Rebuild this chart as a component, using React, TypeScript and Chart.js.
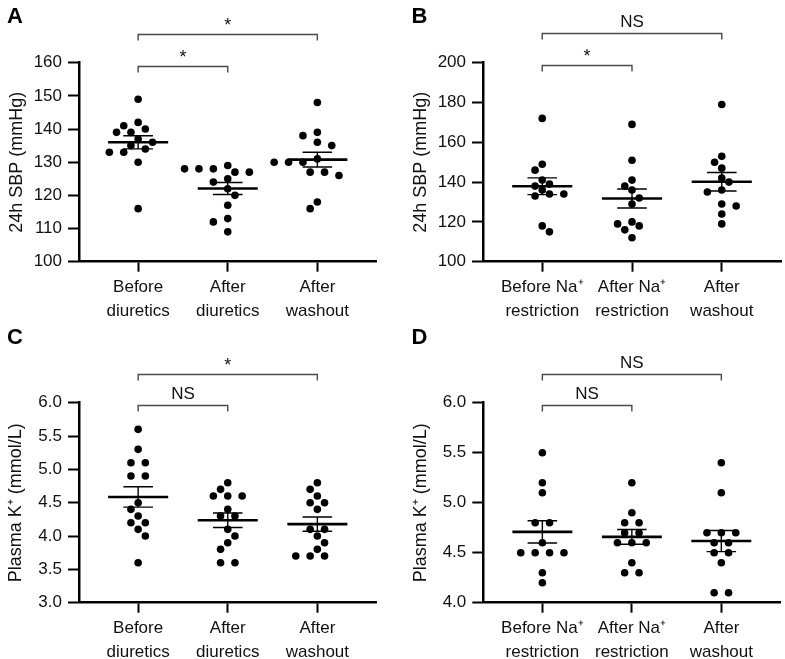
import React, { useEffect, useRef } from 'react';
import { Chart, registerables } from 'chart.js';

Chart.register(...registerables);

const FONT = '"Liberation Sans", Arial, Helvetica, sans-serif';

// ---- categories ----
const diureticCategories = [['Before', 'diuretics'], ['After', 'diuretics'], ['After', 'washout']];
const sodiumCategories = [['Before Na⁺', 'restriction'], ['After Na⁺', 'restriction'], ['After', 'washout']];

// ---- Panel A: 24h SBP, diuretics ----
const sbpBeforeDiuretics = [149, 142, 141, 140, 139, 139, 137, 136, 135, 134, 133, 133, 130, 116];
const sbpAfterDiuretics = [129, 128, 128, 128, 127, 127, 125, 124, 122, 120, 117, 113, 112, 109];
const sbpAfterWashoutA = [148, 139, 138, 136, 135, 131, 130, 130, 130, 127, 127, 126, 118, 116];

// ---- Panel B: 24h SBP, Na+ restriction ----
const sbpBeforeNa = [172, 149, 146, 141, 139, 138, 136, 134, 134, 133, 118, 115];
const sbpAfterNa = [169, 151, 141, 138, 136, 132, 129, 120, 119, 118, 116, 112];
const sbpAfterWashoutB = [179, 153, 150, 147, 142, 140, 136, 135, 129, 128, 124, 119];

// ---- Panel C: plasma K+, diuretics ----
const kBeforeDiuretics = [5.6, 5.3, 5.1, 5.1, 4.9, 4.9, 4.5, 4.4, 4.3, 4.2, 4.2, 4.1, 4.0, 3.6];
const kAfterDiuretics = [4.8, 4.7, 4.6, 4.6, 4.6, 4.4, 4.3, 4.3, 4.1, 4.0, 3.9, 3.8, 3.6, 3.6];
const kAfterWashoutC = [4.8, 4.7, 4.6, 4.5, 4.5, 4.4, 4.1, 4.1, 4.0, 3.9, 3.8, 3.7, 3.7, 3.7];

// ---- Panel D: plasma K+, Na+ restriction ----
const kBeforeNa = [5.5, 5.2, 5.1, 4.8, 4.8, 4.6, 4.5, 4.5, 4.5, 4.5, 4.3, 4.2];
const kAfterNa = [5.2, 4.9, 4.8, 4.8, 4.7, 4.7, 4.6, 4.6, 4.6, 4.4, 4.3, 4.3];
const kAfterWashoutD = [5.4, 5.1, 4.7, 4.7, 4.7, 4.6, 4.6, 4.5, 4.5, 4.4, 4.1, 4.1];

// ---- tick values ----
const sbpTicksA = [100, 110, 120, 130, 140, 150, 160];
const sbpTicksB = [100, 120, 140, 160, 180, 200];
const kTicksC = [3.0, 3.5, 4.0, 4.5, 5.0, 5.5, 6.0];
const kTicksD = [4.0, 4.5, 5.0, 5.5, 6.0];

// ---- significance annotations: [label, fromGroup, toGroup] (top bracket first) ----
const sigA: [string, number, number][] = [['*', 0, 2], ['*', 0, 1]];
const sigB: [string, number, number][] = [['NS', 0, 2], ['*', 0, 1]];
const sigC: [string, number, number][] = [['*', 0, 2], ['NS', 0, 1]];
const sigD: [string, number, number][] = [['NS', 0, 2], ['NS', 0, 1]];

type PanelCfg = {
  letter: string;
  left: number; top: number; width: number; height: number;
  axisW: number; axisH: number; padTop: number; padRight: number;
  cats: string[][];
  groups: number[][];
  ticks: number[];
  decimals: number;
  title: string;
  titlePad: number;
  letterX: number; letterY: number;
  sig: [string, number, number][];
  sigY: number[];
};

const panels: PanelCfg[] = [
  {
    letter: 'A', left: 0, top: 0, width: 392, height: 329,
    axisW: 79, axisH: 67.3, padTop: 62.7, padRight: 15.5,
    cats: diureticCategories, groups: [sbpBeforeDiuretics, sbpAfterDiuretics, sbpAfterWashoutA],
    ticks: sbpTicksA, decimals: 0, title: '24h SBP (mmHg)', titlePad: 6.5,
    letterX: 7, letterY: 23, sig: sigA, sigY: [-28.4, 3.3],
  },
  {
    letter: 'B', left: 392, top: 0, width: 393, height: 329,
    axisW: 91, axisH: 67.3, padTop: 62.7, padRight: 2,
    cats: sodiumCategories, groups: [sbpBeforeNa, sbpAfterNa, sbpAfterWashoutB],
    ticks: sbpTicksB, decimals: 0, title: '24h SBP (mmHg)', titlePad: 18.2,
    letterX: 19.5, letterY: 23, sig: sigB, sigY: [-30, 2.3],
  },
  {
    letter: 'C', left: 0, top: 329, width: 392, height: 330,
    axisW: 79, axisH: 56.3, padTop: 73.7, padRight: 15.5,
    cats: diureticCategories, groups: [kBeforeDiuretics, kAfterDiuretics, kAfterWashoutC],
    ticks: kTicksC, decimals: 1, title: 'Plasma K⁺ (mmol/L)', titlePad: 5.5,
    letterX: 7, letterY: 15, sig: sigC, sigY: [-28.7, 2.3],
  },
  {
    letter: 'D', left: 392, top: 329, width: 393, height: 330,
    axisW: 91.3, axisH: 56.3, padTop: 73.7, padRight: 4.6,
    cats: sodiumCategories, groups: [kBeforeNa, kAfterNa, kAfterWashoutD],
    ticks: kTicksD, decimals: 1, title: 'Plasma K⁺ (mmol/L)', titlePad: 18.2,
    letterX: 19.5, letterY: 15, sig: sigD, sigY: [-28.7, 2.3],
  },
];

// beeswarm: rows of equal values centred, shifted on a half-step grid to avoid overlaps
const STEP = 14.4;
const HALF = 7.2;
const MIN_D = 8.2;
function swarmOffsets(vals: number[], toPx: (v: number) => number): number[] {
  const offs = new Array(vals.length).fill(0);
  const placed: { x: number; y: number }[] = [];
  const uniq = Array.from(new Set(vals)).sort((a, b) => b - a);
  let flip = 1;
  for (const u of uniq) {
    const idx = vals.map((_, i) => i).filter((i) => vals[i] === u);
    const n = idx.length;
    const y = toPx(u);
    const base = idx.map((_, j) => (j - (n - 1) / 2) * STEP);
    const shifts = [0];
    for (let k = 1; k < 14; k++) shifts.push(-flip * k * HALF, flip * k * HALF);
    for (const s of shifts) {
      const cand = base.map((b) => b + s);
      const ok = cand.every((x) => placed.every((p) => Math.hypot(p.x - x, p.y - y) >= MIN_D));
      if (ok) {
        cand.forEach((x, j) => {
          offs[idx[j]] = x;
          placed.push({ x, y });
        });
        if (s !== 0) flip = -flip;
        break;
      }
    }
  }
  return offs;
}

function mean(a: number[]) {
  return a.reduce((s, v) => s + v, 0) / a.length;
}
function sem(a: number[]) {
  const m = mean(a);
  const sd = Math.sqrt(a.reduce((s, v) => s + (v - m) ** 2, 0) / (a.length - 1));
  return sd / Math.sqrt(a.length);
}

function Panel({ cfg }: { cfg: PanelCfg }) {
  const ref = useRef<HTMLCanvasElement>(null);
  useEffect(() => {
    const canvas = ref.current!;
    const datasets: any[] = [
      {
        data: cfg.groups.flatMap((g, i) => g.map((v) => ({ x: i, y: v }))),
        pointRadius: 3.8,
        pointBackgroundColor: '#000',
        backgroundColor: '#000',
        pointBorderWidth: 0,
        borderWidth: 0,
        showLine: false,
        order: 2,
      },
    ];
    cfg.groups.forEach((g, i) => {
      const m = mean(g);
      const se = sem(g);
      datasets.push({
        data: [{ x: i - 0.335, y: m }, { x: i + 0.335, y: m }],
        showLine: true, borderColor: '#000', borderWidth: 2.6, pointRadius: 0, order: 1,
      });
      datasets.push({
        data: [
          { x: i - 0.165, y: m + se }, { x: i + 0.165, y: m + se }, { x: i, y: m + se },
          { x: i, y: m - se }, { x: i - 0.165, y: m - se }, { x: i + 0.165, y: m - se },
        ],
        showLine: true, borderColor: '#000', borderWidth: 1.4, pointRadius: 0,
        borderJoinStyle: 'bevel', order: 1,
      });
    });

    const sigPlugin = {
      id: 'sigBrackets',
      afterDraw(chart: any) {
        const { ctx, chartArea } = chart;
        const xs = chart.scales.x;
        ctx.save();
        ctx.fillStyle = '#000';
        ctx.textAlign = 'left';
        ctx.textBaseline = 'alphabetic';
        ctx.font = `bold 22px ${FONT}`;
        ctx.fillText(cfg.letter, cfg.letterX, cfg.letterY);
        cfg.sig.forEach(([label, from, to], k) => {
          const x1 = xs.getPixelForValue(from);
          const x2 = xs.getPixelForValue(to);
          const y = Math.round(chartArea.top + cfg.sigY[k]) + 0.5;
          ctx.strokeStyle = '#4a4a4a';
          ctx.lineWidth = 1.4;
          ctx.beginPath();
          ctx.moveTo(x1, y + 6);
          ctx.lineTo(x1, y);
          ctx.lineTo(x2, y);
          ctx.lineTo(x2, y + 6);
          ctx.stroke();
          ctx.textAlign = 'center';
          ctx.fillStyle = '#111';
          if (label === '*') {
            ctx.font = `18px ${FONT}`;
            ctx.fillText('*', (x1 + x2) / 2, y - 3.5);
          } else {
            ctx.font = `17px ${FONT}`;
            ctx.fillText(label, (x1 + x2) / 2, y - 6.3);
          }
        });
        ctx.restore();
      },
    };

    const tickVals = cfg.ticks;
    const chart = new Chart(canvas, {
      type: 'scatter',
      data: { datasets },
      plugins: [sigPlugin],
      options: {
        animation: false,
        responsive: false,
        devicePixelRatio: 1,
        events: [],
        layout: { padding: { top: cfg.padTop, right: cfg.padRight, left: 0, bottom: 0 } },
        plugins: { legend: { display: false }, tooltip: { enabled: false } },
        scales: {
          x: {
            type: 'linear',
            min: -0.66,
            max: 2.66,
            afterBuildTicks: (s: any) => {
              s.ticks = cfg.cats.map((_, i) => ({ value: i }));
            },
            afterFit: (s: any) => {
              s.height = cfg.axisH;
            },
            ticks: {
              callback: (v: any) => cfg.cats[Math.round(Number(v))] as any,
              maxRotation: 0,
              minRotation: 0,
              autoSkip: false,
              padding: 4.5,
              color: '#111',
              font: { family: FONT, size: 17, lineHeight: 1.36 },
            },
            grid: { drawOnChartArea: false, drawTicks: true, tickLength: 10, tickWidth: 2, tickColor: '#000' },
            border: { display: true, color: '#000', width: 2.5 },
          },
          y: {
            type: 'linear',
            min: tickVals[0],
            max: tickVals[tickVals.length - 1],
            afterBuildTicks: (s: any) => {
              s.ticks = tickVals.map((v) => ({ value: v }));
            },
            afterFit: (s: any) => {
              s.width = cfg.axisW;
            },
            ticks: {
              callback: (v: any) => Number(v).toFixed(cfg.decimals),
              padding: 6,
              color: '#111',
              font: { family: FONT, size: 17 },
            },
            grid: { drawOnChartArea: false, drawTicks: true, tickLength: 11, tickWidth: 2, tickColor: '#000' },
            border: { display: true, color: '#000', width: 2.5 },
            title: {
              display: true,
              text: cfg.title,
              color: '#111',
              font: { family: FONT, size: 18 },
              padding: { top: cfg.titlePad, bottom: 0 },
            },
          },
        },
      } as any,
    });

    // lay out the dots as a beeswarm using the chart's own scales
    const xs = chart.scales.x;
    const ys = chart.scales.y;
    const unitX = xs.getPixelForValue(1) - xs.getPixelForValue(0);
    const pts: { x: number; y: number }[] = [];
    cfg.groups.forEach((g, i) => {
      const offs = swarmOffsets(g, (v) => ys.getPixelForValue(v));
      g.forEach((v, j) => pts.push({ x: i + offs[j] / unitX, y: v }));
    });
    chart.data.datasets[0].data = pts as any;
    chart.update();

    return () => chart.destroy();
  }, [cfg]);

  return (
    <canvas
      ref={ref}
      width={cfg.width}
      height={cfg.height}
      style={{ position: 'absolute', left: cfg.left, top: cfg.top, width: cfg.width, height: cfg.height }}
    />
  );
}

export default function App() {
  return (
    <div style={{ position: 'absolute', left: 0, top: 0, width: 785, height: 659, background: '#fff', overflow: 'hidden' }}>
      {panels.map((p) => (
        <Panel key={p.letter} cfg={p} />
      ))}
    </div>
  );
}
